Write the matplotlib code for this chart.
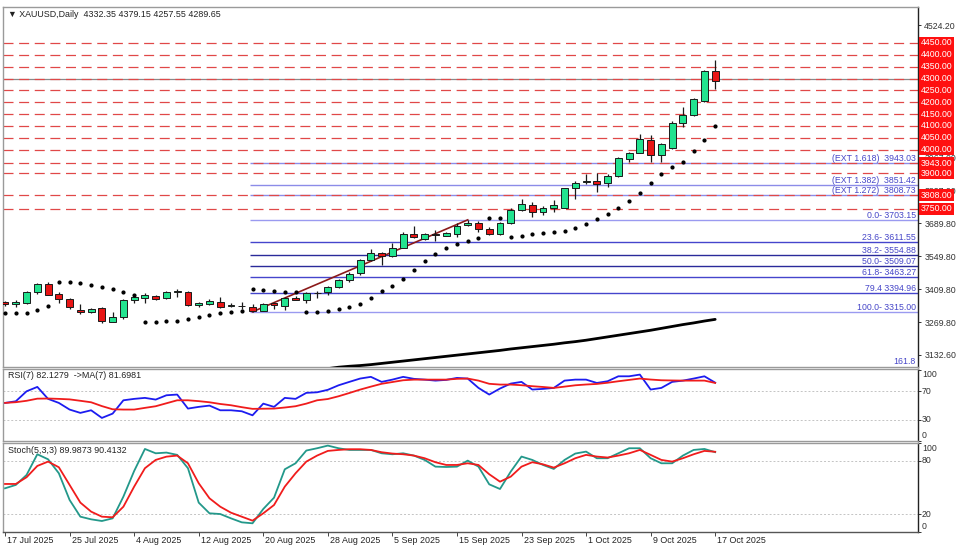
import matplotlib
matplotlib.use('Agg')
import matplotlib.pyplot as plt
import matplotlib.transforms as mtrans
import numpy as np

plt.rcParams['font.family'] = ['Liberation Sans', 'DejaVu Sans']

# ---------------- data ----------------
date_labels = ['17 Jul 2025', '25 Jul 2025', '4 Aug 2025', '12 Aug 2025', '20 Aug 2025',
               '28 Aug 2025', '5 Sep 2025', '15 Sep 2025', '23 Sep 2025', '1 Oct 2025',
               '9 Oct 2025', '17 Oct 2025']
date_bars = [0, 6, 12, 18, 24, 30, 36, 42, 48, 54, 60, 66]

opens = [3358, 3347, 3351, 3397, 3432, 3390, 3369, 3321, 3313, 3330,
         3274, 3292, 3365, 3374, 3383, 3372, 3398, 3400, 3342, 3348,
         3357, 3341, 3340, 3336, 3318, 3351, 3341, 3374, 3365, 3394,
         3398, 3418, 3448, 3480, 3534, 3563, 3549, 3586, 3642, 3622,
         3643, 3637, 3643, 3680, 3688, 3665, 3642, 3689, 3743, 3766,
         3738, 3752, 3754, 3836, 3861, 3866, 3857, 3889, 3961, 3987,
         4040, 3977, 4005, 4113, 4146, 4205, 4332.35]
highs = [3362, 3365, 3404, 3438, 3439, 3399, 3375, 3347, 3330, 3334,
         3314, 3368, 3386, 3393, 3387, 3402, 3410, 3404, 3358, 3370,
         3379, 3351, 3355, 3346, 3351, 3358, 3379, 3380, 3397, 3404,
         3424, 3455, 3482, 3538, 3579, 3569, 3604, 3650, 3678, 3649,
         3660, 3651, 3688, 3703.15, 3698, 3672, 3693, 3752, 3791, 3780,
         3763, 3786, 3839, 3868, 3898, 3900, 3895, 3970, 3991, 4064,
         4061, 4026, 4120, 4181, 4219, 4336, 4379.15]
lows = [3339, 3337, 3346, 3390, 3386, 3351, 3327, 3304, 3310, 3269,
        3271, 3286, 3351, 3351, 3365, 3369, 3379, 3341, 3334, 3342,
        3332, 3334, 3325, 3315.00, 3317, 3325, 3322, 3363, 3351, 3375,
        3386, 3414, 3442, 3470, 3531, 3512, 3545, 3583, 3628, 3618,
        3615, 3635, 3632, 3677, 3650, 3640, 3638, 3686, 3740, 3717,
        3724, 3735, 3752, 3793, 3853, 3822, 3840, 3885, 3946, 3984,
        3949, 3949, 4002, 4096, 4142, 4202, 4257.55]
closes = [3347, 3358, 3397, 3432, 3388, 3368, 3337, 3313, 3325, 3276,
          3292, 3365, 3376, 3384, 3368, 3399, 3401, 3344, 3351, 3359,
          3336, 3342, 3338, 3318, 3348, 3342, 3375, 3365, 3393, 3396,
          3418, 3449, 3474, 3534, 3562, 3549, 3586, 3643, 3629, 3643,
          3638, 3646, 3678, 3691, 3664, 3644, 3690, 3745, 3769, 3738,
          3753, 3765, 3836, 3860, 3868, 3856, 3889, 3963, 3986, 4043,
          3977, 4022, 4113, 4146, 4212, 4332, 4289.65]

sar = [3308.7, 3311.2, 3311.2, 3322.6, 3339.5, 3439.5, 3439.5, 3437.9, 3428.1, 3421.0,
       3410.0, 3397.3, 3385.9, 3270.7, 3273.2, 3276.1, 3277.4, 3284.6, 3294.3, 3301.5,
       3308.7, 3315.4, 3319.6, 3410.0, 3407.0, 3404.1, 3399.9, 3397.3, 3312.9, 3314.1,
       3318.4, 3325.5, 3334.0, 3349.2, 3374.5, 3404.1, 3425.2, 3453.5, 3491.5, 3528.2,
       3557.8, 3583.1, 3600.0, 3615.2, 3627.8, 3709.7, 3709.7, 3628.7, 3635.0, 3643.5,
       3649.0, 3653.2, 3657.4, 3667.5, 3684.4, 3705.5, 3727.9, 3752.0, 3782.8, 3816.6,
       3857.5, 3896.8, 3925.1, 3948.7, 3995.1, 4040.3, 4100.7]

ma_first_bar = 28
ma_values = [3064, 3069, 3075, 3081, 3085, 3088, 3092, 3097, 3102, 3107,
             3112, 3117, 3122, 3127, 3132, 3137, 3142, 3147, 3152, 3158,
             3163, 3168, 3173, 3178, 3184, 3189, 3195, 3202, 3209, 3216,
             3223, 3230, 3237, 3245, 3253, 3261, 3268, 3276, 3283]

rsi = [53.5, 55.8, 69.9, 76.1, 59.2, 53.5, 44.1, 39.4, 43.1, 32.3,
       38.4, 57.2, 59.2, 60.6, 58.2, 64.3, 65.3, 45.5, 47.9, 49.7,
       43.1, 43.1, 41.7, 36.0, 52.5, 47.9, 60.6, 59.2, 67.7, 68.5,
       72.0, 78.4, 83.2, 87.9, 90.3, 83.2, 86.4, 90.3, 87.5, 86.4,
       85.0, 86.0, 88.8, 87.9, 74.7, 65.3, 73.8, 80.8, 83.2, 72.4,
       73.3, 74.7, 85.0, 86.4, 86.4, 81.7, 84.1, 91.1, 91.1, 93.5,
       72.4, 74.7, 83.2, 85.0, 87.9, 91.1, 82.13]
rsi_ma = [53.5, 54.5, 56.5, 59.5, 59.7, 59.2, 58.5, 56.5, 54.4, 49.0,
          44.5, 44.1, 44.1, 46.5, 48.8, 53.0, 57.2, 57.2, 56.0, 54.4,
          52.0, 50.2, 47.5, 45.1, 45.3, 45.5, 47.0, 48.8, 52.5, 57.2,
          59.0, 62.9, 67.5, 72.3, 76.5, 80.5, 83.0, 85.5, 86.4, 86.4,
          86.4, 86.4, 87.5, 87.9, 85.0, 80.5, 79.4, 79.4, 78.5, 77.1,
          76.0, 74.7, 76.5, 78.4, 79.5, 80.3, 82.0, 84.1, 86.0, 87.9,
          86.5, 85.5, 85.2, 85.0, 85.0, 85.0, 81.70]

stoch_k = [49.1, 52.9, 64.2, 87.6, 81.9, 66.1, 35.9, 17.0, 14.0, 12.1,
           15.1, 39.7, 68.7, 93.6, 88.7, 89.5, 86.9, 71.8, 32.9, 20.8,
           20.0, 15.1, 10.6, 9.5, 25.7, 38.5, 70.6, 77.4, 91.8, 94.4,
           97.4, 94.4, 92.5, 92.5, 92.5, 88.7, 87.6, 88.7, 86.1, 81.2,
           73.6, 73.2, 73.6, 80.4, 73.6, 53.6, 48.3, 68.0, 85.0, 81.2,
           75.5, 71.0, 81.2, 88.4, 90.6, 83.1, 83.1, 88.7, 94.4, 94.4,
           83.1, 77.4, 77.4, 86.1, 92.5, 93.6, 89.99]
stoch_d = [54.0, 54.0, 61.6, 74.4, 79.3, 72.9, 52.9, 32.9, 22.7, 17.0,
           16.3, 28.3, 51.0, 71.8, 81.2, 84.9, 86.1, 77.4, 54.8, 37.8,
           28.3, 21.5, 17.0, 12.5, 20.8, 30.2, 51.0, 66.1, 79.3, 86.1,
           91.4, 92.5, 93.3, 93.3, 92.5, 89.9, 88.4, 87.6, 86.1, 83.1,
           78.6, 75.5, 75.5, 77.4, 75.5, 65.0, 56.6, 62.3, 73.6, 78.6,
           76.2, 72.5, 77.4, 83.1, 86.9, 85.0, 83.9, 86.1, 88.7, 92.5,
           86.9, 81.2, 79.3, 83.1, 87.6, 91.4, 90.41]

level_prices = [4450.00, 4400.00, 4350.00, 4300.00, 4250.00, 4200.00, 4150.00,
                4100.00, 4050.00, 4000.00, 3943.00, 3900.00, 3808.00, 3750.00]
bid_price = 4300.0

fib_anchor_bars = [23, 43]
fib_names = ['0.0-', '23.6-', '38.2-', '50.0-', '61.8-', '79.4', '100.0-', '161.8']
fib_prices = [3703.15, 3611.55, 3554.88, 3509.07, 3463.27, 3394.96, 3315.00, 3075.12]
ext_names = ['(EXT 1.618)', '(EXT 1.382)', '(EXT 1.272)']
ext_prices = [3943.03, 3851.42, 3808.73]

price_ticks = [4524.20, 3967.00, 3827.00, 3689.80, 3549.80, 3409.80, 3269.80, 3132.60]

header = '\u25bc XAUUSD,Daily  4332.35 4379.15 4257.55 4289.65'
rsi_title = 'RSI(7) 82.1279  ->MA(7) 81.6981'
stoch_title = 'Stoch(5,3,3) 89.9873 90.4132'

# ---------------- layout ----------------
W, H = 960, 548
fig = plt.figure(figsize=(W / 100, H / 100), dpi=100)
fig.patch.set_facecolor('white')


def ax_px(x0, y0, x1, y1):
    return fig.add_axes([x0 / W, 1 - y1 / H, (x1 - x0) / W, (y1 - y0) / H])


ax = ax_px(3, 7, 918, 367)
ax_r = ax_px(3, 369, 918, 441)
ax_s = ax_px(3, 443.3, 918, 531.7)

n = len(opens)
xs = np.arange(n)
XL = (-0.19, 84.85)
tick_col = '#333333'
fs = 6.3

for a in (ax, ax_r, ax_s):
    a.set_xlim(*XL)
    a.set_facecolor('white')
    for s in ('left', 'top', 'bottom'):
        a.spines[s].set_color('#9a9a9a')
        a.spines[s].set_linewidth(1.0)
    a.spines['right'].set_color('#222222')
    a.spines['right'].set_linewidth(1.0)
    a.yaxis.tick_right()
    a.tick_params(axis='y', length=2.5, width=0.7, colors=tick_col, labelsize=fs, pad=2)
    a.tick_params(axis='x', length=0)
    a.set_xticks([])

# ---------- main price panel ----------
ax.set_ylim(3081.9, 4601.9)
ax.set_yticks(price_ticks)
ax.set_yticklabels(['%.2f' % p for p in price_ticks])

# fibonacci / extension lines (start at anchor bar)
x_start = fib_anchor_bars[0] - 0.2
for i, p in enumerate(fib_prices):
    col = '#9a9af0' if i in (0, 6) else ('#2a2a9a' if i in (2, 3) else '#4545cc')
    ax.hlines(p, x_start, XL[1], color=col, lw=1.0, zorder=1.5)
for p in ext_prices:
    ax.hlines(p, x_start, XL[1], color='#8c8ce8', lw=1.0, zorder=1.5)

# horizontal level lines (red dashed)
ax.axhline(bid_price, color='#8a8a8a', lw=0.9, zorder=1.2)
for p in level_prices:
    ax.axhline(p, color='#e04848', lw=0.9, ls=(0, (8, 4.5)), zorder=1.6)

# fib trend line
ax.plot(fib_anchor_bars, [fib_prices[6], fib_prices[0]], color='#8b1a1a', lw=1.2, zorder=2)

# fib labels
tr_lab = mtrans.blended_transform_factory(ax.transAxes, ax.transData)
xr = (916 - 3) / 915
lab_col = '#4646c8'
for name, p in zip(fib_names, fib_prices):
    yy = max(p, ax.get_ylim()[0] + 4)
    ax.text(xr, yy, '%s %.2f' % (name, p) if name != '161.8' else name,
            transform=tr_lab, ha='right', va='bottom', fontsize=fs, color=lab_col, zorder=5)
for name, p in zip(ext_names, ext_prices):
    ax.text(xr, p, '%s  %.2f' % (name, p), transform=tr_lab, ha='right', va='bottom',
            fontsize=fs, color=lab_col, zorder=5)

# moving average
ax.plot(np.arange(ma_first_bar, ma_first_bar + len(ma_values)), ma_values,
        color='black', lw=2.0, zorder=3, solid_capstyle='round')

# candles
o = np.array(opens); c = np.array(closes); h = np.array(highs); l = np.array(lows)
up = c >= o
ax.vlines(xs, l, h, color='#1a1a1a', lw=0.9, zorder=3)
body_lo = np.minimum(o, c)
body_h = np.maximum(np.abs(c - o), 0.8)
ax.bar(xs[up], body_h[up], bottom=body_lo[up], width=0.64, color='#22e38f',
       edgecolor='#1a1a1a', linewidth=0.7, zorder=4)
ax.bar(xs[~up], body_h[~up], bottom=body_lo[~up], width=0.64, color='#e81515',
       edgecolor='#1a1a1a', linewidth=0.7, zorder=4)

# parabolic SAR
ax.plot(xs, sar, ls='none', marker='o', ms=2.0, color='black', zorder=5)

# header
ax.text(5 / 915, 1 - 7.5 / 360, header, transform=ax.transAxes, ha='left', va='center',
        fontsize=6.4, color='#222222')

# red level price boxes on the right axis
tr_box = mtrans.blended_transform_factory(ax.transAxes, ax.transData)
for p in level_prices:
    ax.text(1 + 2.5 / 915, p, '%.2f' % p, transform=tr_box, ha='left', va='center',
            fontsize=fs, color='white', zorder=10, clip_on=False,
            bbox=dict(boxstyle='square,pad=0.16', fc='#ff1010', ec='none'))

# ---------- RSI panel ----------
ax_r.set_ylim(-0.3, 101.4)
ax_r.plot(xs, rsi, color='#1c1cf0', lw=1.3, zorder=3)
ax_r.plot(xs, rsi_ma, color='#f01c1c', lw=1.3, zorder=3)
for lv in (70, 30):
    ax_r.axhline(lv, color='#c4c4c4', lw=0.7, ls=(0, (2, 2)), zorder=1)
ax_r.set_yticks([100, 70, 30, 0])
ax_r.set_yticklabels([])
tr_r = mtrans.blended_transform_factory(ax_r.transAxes, ax_r.transData)
for txt, v in (('100', 93.5), ('70', 70), ('30', 30), ('0', 7.3)):
    ax_r.text(1 + 4 / 915, v, txt, transform=tr_r, ha='left', va='center', fontsize=fs,
              color=tick_col, clip_on=False)
ax_r.text(5 / 915, 1 - 7 / 72, rsi_title, transform=ax_r.transAxes, ha='left', va='center',
          fontsize=6.4, color='#222222')

# ---------- Stochastic panel ----------
ax_s.set_ylim(0, 100)
ax_s.plot(xs, stoch_k, color='#23988a', lw=1.3, zorder=3)
ax_s.plot(xs, stoch_d, color='#f01c1c', lw=1.3, zorder=3)
for lv in (80, 20):
    ax_s.axhline(lv, color='#c4c4c4', lw=0.7, ls=(0, (2, 2)), zorder=1)
ax_s.set_yticks([100, 80, 20, 0])
ax_s.set_yticklabels([])
tr_s = mtrans.blended_transform_factory(ax_s.transAxes, ax_s.transData)
for txt, v in (('100', 94.4), ('80', 80), ('20', 20), ('0', 5.7)):
    ax_s.text(1 + 4 / 915, v, txt, transform=tr_s, ha='left', va='center', fontsize=fs,
              color=tick_col, clip_on=False)
ax_s.text(5 / 915, 1 - 7 / 88.4, stoch_title, transform=ax_s.transAxes, ha='left', va='center',
          fontsize=6.4, color='#222222')

ax_s.spines['bottom'].set_color('#555555')
ax_s.set_xticks(date_bars)
ax_s.set_xticklabels([])
ax_s.tick_params(axis='x', length=3, width=0.7, colors='#444444', direction='out')
tr_x = mtrans.blended_transform_factory(ax_s.transData, ax_s.transAxes)
off = mtrans.ScaledTranslation(2 / 100, 0, fig.dpi_scale_trans)
for b, lab in zip(date_bars, date_labels):
    ax_s.text(b, -8.8 / 88.4, lab, transform=tr_x + off, ha='left', va='center',
              fontsize=6.4, color='#222222', clip_on=False)

fig.savefig('out.png', dpi=100, facecolor='white')
